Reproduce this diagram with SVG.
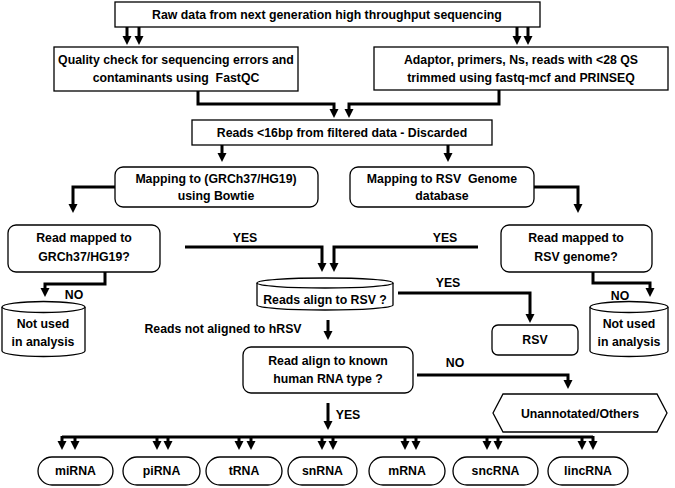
<svg xmlns="http://www.w3.org/2000/svg" width="675" height="488" viewBox="0 0 675 488">
<style>
text{font-family:"Liberation Sans",Arial,sans-serif;font-weight:bold;font-size:12.3px;fill:#000;text-anchor:middle}
.box{fill:#fff;stroke:#000;stroke-width:1.3}
.con{fill:none;stroke:#000;stroke-width:3;marker-end:url(#ah)}
.bar{fill:none;stroke:#000;stroke-width:3}
</style>
<defs>
<marker id="ah" markerUnits="userSpaceOnUse" markerWidth="10" markerHeight="10" viewBox="0 0 10 10" refX="3" refY="5" orient="auto">
<path d="M0,0.5 L9,5 L0,9.5 z" fill="#000"/>
</marker>
</defs>
<rect width="675" height="488" fill="#fff"/>
<g id="connectors">
<path class="con" d="M127,27 V39"/>
<path class="con" d="M139,27 V39"/>
<path class="con" d="M517,27 V39"/>
<path class="con" d="M528,27 V39"/>
<path class="con" d="M198,91 V104 H334 V112"/>
<path class="con" d="M499,90 V104 H349 V112"/>
<path class="con" d="M222,145 V156"/>
<path class="con" d="M448,145 V156"/>
<path class="con" d="M115,187 H73 V207"/>
<path class="con" d="M534,187 H578 V207"/>
<path class="con" d="M185,247 H322 V266"/>
<path class="con" d="M478,247 H334 V266"/>
<path class="con" d="M105,272 V284 H45 V291"/>
<path class="con" d="M593,272 V283 H650 V291"/>
<path class="con" d="M398,293 H530 V317"/>
<path class="con" d="M328,320 V334"/>
<path class="con" d="M417,375 H568 V383"/>
<path class="con" d="M328,403 V424"/>
<path class="bar" d="M62,437 H593"/>
<path class="con" d="M62,436 V444"/>
<path class="con" d="M75,437 V444"/>
<path class="con" d="M157,437 V444"/>
<path class="con" d="M168,437 V444"/>
<path class="con" d="M239,437 V444"/>
<path class="con" d="M251,437 V444"/>
<path class="con" d="M322,437 V444"/>
<path class="con" d="M333,437 V444"/>
<path class="con" d="M405,437 V444"/>
<path class="con" d="M416,437 V444"/>
<path class="con" d="M487,437 V444"/>
<path class="con" d="M498,437 V444"/>
<path class="con" d="M582,437 V444"/>
<path class="con" d="M593,436 V444"/>
<text x="245" y="242">YES</text>
<text x="445" y="242">YES</text>
<text x="448" y="287">YES</text>
<text x="74" y="299">NO</text>
<text x="620" y="300">NO</text>
<text x="455" y="367">NO</text>
<text x="348" y="419">YES</text>
<text x="223" y="333">Reads not aligned to hRSV</text>
</g>
<g id="raw">
<rect class="box" x="115" y="2" width="425" height="25"/>
<text x="327" y="19">Raw data from next generation high throughput sequencing</text>
</g>
<g id="qc">
<rect class="box" x="54" y="47" width="244" height="44"/>
<text x="176" y="64">Quality check for sequencing errors and</text>
<text x="176" y="82" xml:space="preserve">contaminants using  FastQC</text>
</g>
<g id="trim">
<rect class="box" x="374" y="47" width="294" height="43"/>
<text x="521" y="64">Adaptor, primers, Ns, reads with &lt;28 QS</text>
<text x="521" y="82">trimmed using fastq-mcf and PRINSEQ</text>
</g>
<g id="discard">
<rect class="box" x="192" y="120" width="300" height="25"/>
<text x="342" y="137">Reads &lt;16bp from filtered data - Discarded</text>
</g>
<g id="map-hg19">
<rect class="box" x="115" y="167" width="203" height="40" rx="8"/>
<text x="216" y="183">Mapping to (GRCh37/HG19)</text>
<text x="216" y="200">using Bowtie</text>
</g>
<g id="map-rsv">
<rect class="box" x="350" y="167" width="184" height="40" rx="8"/>
<text x="442" y="183" xml:space="preserve">Mapping to RSV  Genome</text>
<text x="442" y="200">database</text>
</g>
<g id="mapped-hg19">
<rect class="box" x="8" y="225" width="152" height="47" rx="8"/>
<text x="84" y="242">Read mapped to</text>
<text x="84" y="261">GRCh37/HG19?</text>
</g>
<g id="mapped-rsv">
<rect class="box" x="501" y="225" width="151" height="47" rx="8"/>
<text x="576" y="242">Read mapped to</text>
<text x="576" y="261">RSV genome?</text>
</g>
<g id="align-rsv">
<path class="box" d="M257,283 A68,5 0 0 1 393,283 V305 A68,5 0 0 1 257,305 Z"/>
<path class="box" fill="none" d="M257,283 A68,5 0 0 0 393,283"/>
<text x="325" y="304">Reads align to RSV ?</text>
</g>
<g id="notused-left">
<path class="box" d="M2,307 A41.5,5.5 0 0 1 85,307 V351 A41.5,5.5 0 0 1 2,351 Z"/>
<path class="box" fill="none" d="M2,307 A41.5,5.5 0 0 0 85,307"/>
<text x="43" y="328">Not used</text>
<text x="43" y="346">in analysis</text>
</g>
<g id="notused-right">
<path class="box" d="M590,307 A39,5.5 0 0 1 668,307 V351 A39,5.5 0 0 1 590,351 Z"/>
<path class="box" fill="none" d="M590,307 A39,5.5 0 0 0 668,307"/>
<text x="629" y="328">Not used</text>
<text x="629" y="346">in analysis</text>
</g>
<g id="rsv">
<rect class="box" x="492" y="325" width="86" height="30" rx="6"/>
<text x="535" y="344">RSV</text>
</g>
<g id="rna-type">
<rect class="box" x="243" y="347" width="170" height="46" rx="8"/>
<text x="328" y="365">Read align to known</text>
<text x="328" y="383">human RNA type ?</text>
</g>
<g id="unannotated">
<polygon class="box" points="493,413 503,394 657,394 667,413 657,432 503,432"/>
<text x="580" y="418">Unannotated/Others</text>
</g>
<g id="mirna"><rect class="box" x="38" y="457" width="75" height="28" rx="14"/><text x="75.5" y="475">miRNA</text></g>
<g id="pirna"><rect class="box" x="123" y="457" width="77" height="28" rx="14"/><text x="161.5" y="475">piRNA</text></g>
<g id="trna"><rect class="box" x="206" y="457" width="76" height="28" rx="14"/><text x="244" y="475">tRNA</text></g>
<g id="snrna"><rect class="box" x="288" y="457" width="69" height="28" rx="14"/><text x="322.5" y="475">snRNA</text></g>
<g id="mrna"><rect class="box" x="369" y="457" width="76" height="28" rx="14"/><text x="407" y="475">mRNA</text></g>
<g id="sncrna"><rect class="box" x="453" y="457" width="85" height="28" rx="14"/><text x="495.5" y="475">sncRNA</text></g>
<g id="lincrna"><rect class="box" x="548" y="457" width="80" height="28" rx="14"/><text x="588" y="475">lincRNA</text></g>
</svg>
